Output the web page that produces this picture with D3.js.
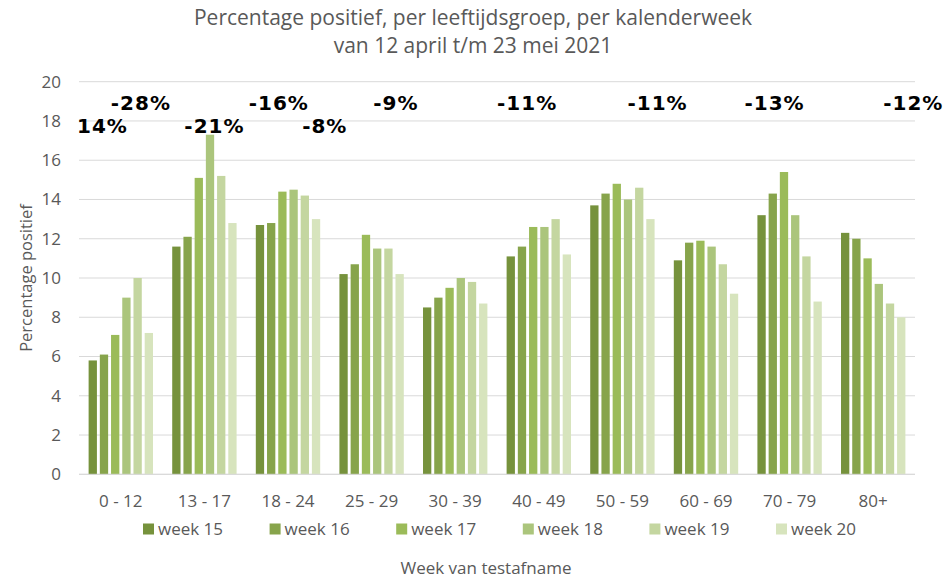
<!DOCTYPE html>
<html>
<head>
<meta charset="utf-8">
<script src="https://cdn.jsdelivr.net/npm/d3@7"></script>
<style>
  body { margin: 0; background: #fff; }
  svg { display: block; }
  text { font-family: "Open Sans", sans-serif; }
</style>
</head>
<body>
<svg id="chart" width="946" height="579"></svg>
<script>
const categories = ["0 - 12", "13 - 17", "18 - 24", "25 - 29", "30 - 39", "40 - 49", "50 - 59", "60 - 69", "70 - 79", "80+"];
const seriesNames = ["week 15", "week 16", "week 17", "week 18", "week 19", "week 20"];
const week15 = [5.8, 11.6, 12.7, 10.2, 8.5, 11.1, 13.7, 10.9, 13.2, 12.3];
const week16 = [6.1, 12.1, 12.8, 10.7, 9.0, 11.6, 14.3, 11.8, 14.3, 12.0];
const week17 = [7.1, 15.1, 14.4, 12.2, 9.5, 12.6, 14.8, 11.9, 15.4, 11.0];
const week18 = [9.0, 17.3, 14.5, 11.5, 10.0, 12.6, 14.0, 11.6, 13.2, 9.7];
const week19 = [10.0, 15.2, 14.2, 11.5, 9.8, 13.0, 14.6, 10.7, 11.1, 8.7];
const week20 = [7.2, 12.8, 13.0, 10.2, 8.7, 11.2, 13.0, 9.2, 8.8, 8.0];
const yTicks = [0, 2, 4, 6, 8, 10, 12, 14, 16, 18, 20];
const annotLabels = ["14%", "-28%", "-21%", "-16%", "-8%", "-9%", "-11%", "-11%", "-13%", "-12%"];

const series = [week15, week16, week17, week18, week19, week20];
const colors = ["#76923c", "#87a44b", "#9bbb59", "#abc57c", "#c4d6a0", "#d7e4bd"];

// annotation layout: category-space x position and row (0 = upper, 1 = lower)
const annotPos = [[-0.22, 1], [0.24, 0], [1.12, 1], [1.89, 0], [2.44, 1], [3.29, 0], [4.86, 0], [6.42, 0], [7.82, 0], [9.48, 0]];

const svg = d3.select("#chart");
const pLeft = 79, pRight = 915, pTop = 81.7, pBottom = 474.3;

const x0 = d3.scaleBand().domain(categories).range([pLeft, pRight]).paddingInner(0.23).paddingOuter(0.115);
const x1 = d3.scaleBand().domain(seriesNames).range([0, x0.bandwidth()]).paddingInner(0.26).paddingOuter(0);
const y = d3.scaleLinear().domain([0, 20]).range([pBottom, pTop]);

// gridlines
svg.append("g").selectAll("line").data(yTicks).join("line")
  .attr("x1", pLeft).attr("x2", pRight)
  .attr("y1", d => y(d)).attr("y2", d => y(d))
  .attr("stroke", "#d9d9d9").attr("stroke-width", 1);

// y axis labels
const yAxis = d3.axisLeft(y).tickValues(yTicks).tickSize(0).tickPadding(0);
const ya = svg.append("g").attr("transform", `translate(${pLeft - 18},0)`).call(yAxis);
ya.select(".domain").remove();
ya.selectAll("text").attr("font-size", 17).attr("fill", "#595959")
  .style("font-family", "'Open Sans', sans-serif");

// x axis labels
const xAxis = d3.axisBottom(x0).tickSize(0).tickPadding(0);
const xa = svg.append("g").attr("transform", `translate(0,${pBottom + 21})`).call(xAxis);
xa.select(".domain").remove();
xa.selectAll("text").attr("font-size", 17).attr("fill", "#595959")
  .style("font-family", "'Open Sans', sans-serif");

// bars
const groups = svg.append("g").selectAll("g").data(categories).join("g")
  .attr("transform", d => `translate(${x0(d)},0)`);
groups.selectAll("rect").data((d, i) => series.map((s, j) => ({ name: seriesNames[j], v: s[i], c: colors[j] })))
  .join("rect")
  .attr("x", d => x1(d.name))
  .attr("width", x1.bandwidth())
  .attr("y", d => y(d.v))
  .attr("height", d => y(0) - y(d.v))
  .attr("fill", d => d.c);

// baseline
svg.append("line").attr("x1", pLeft).attr("x2", pRight).attr("y1", y(0)).attr("y2", y(0))
  .attr("stroke", "#d9d9d9");

// title
svg.append("text").attr("x", 473).attr("y", 25).attr("text-anchor", "middle")
  .attr("font-size", 21).attr("fill", "#595959").text("Percentage positief, per leeftijdsgroep, per kalenderweek");
svg.append("text").attr("x", 473).attr("y", 53).attr("text-anchor", "middle")
  .attr("font-size", 21).attr("fill", "#595959").text("van 12 april t/m 23 mei 2021");

// y title
svg.append("text").attr("transform", `translate(26,278) rotate(-90)`)
  .attr("text-anchor", "middle").attr("dy", "0.35em").attr("font-size", 16.5).attr("fill", "#595959").text("Percentage positief");

// x title
svg.append("text").attr("x", 486).attr("y", 574).attr("text-anchor", "middle")
  .attr("font-size", 17).attr("fill", "#595959").text("Week van testafname");

// legend
const step = x0.step();
const legend = svg.append("g").selectAll("g").data(seriesNames).join("g")
  .attr("transform", (d, i) => `translate(${143 + i * 126.6},529)`);
legend.append("rect").attr("x", 0).attr("y", -5.5).attr("width", 11).attr("height", 11)
  .attr("fill", (d, i) => colors[i]);
legend.append("text").attr("x", 15).attr("y", 0).attr("dy", "0.35em")
  .attr("font-size", 17).attr("fill", "#595959").text(d => d);

// annotations
svg.append("g").selectAll("text").data(annotLabels).join("text")
  .attr("x", (d, i) => x0(categories[0]) + x0.bandwidth() / 2 + annotPos[i][0] * step)
  .attr("y", (d, i) => annotPos[i][1] === 0 ? 110 : 133)
  .attr("text-anchor", "middle")
  .attr("font-size", 20).attr("font-weight", "bold").attr("fill", "#000")
  .attr("letter-spacing", 1)
  .style("font-family", "'DejaVu Sans', Verdana, sans-serif")
  .text(d => d);
</script>
</body>
</html>
